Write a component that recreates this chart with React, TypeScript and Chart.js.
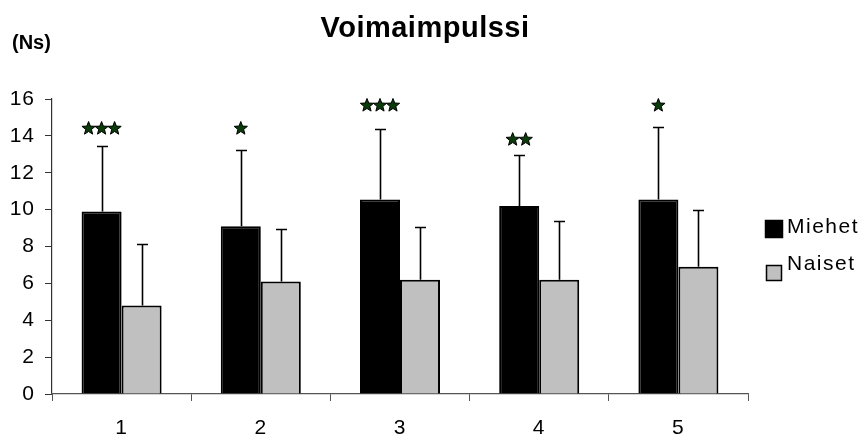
import React, { useEffect, useRef } from "react";
import { Chart, registerables } from "chart.js";

Chart.register(...registerables);

const categories = ["1", "2", "3", "4", "5"];
const miehet = [9.9, 9.1, 10.55, 10.2, 10.55];
const naiset = [4.8, 6.1, 6.2, 6.2, 6.9];
const miehetSD = [3.55, 4.15, 3.82, 2.74, 3.91];
const naisetSD = [3.35, 2.85, 2.87, 3.18, 3.1];
const starCounts = [3, 1, 3, 2, 1];
const starLevels = [14.4, 14.4, 15.65, 13.8, 15.65];
const seriesNames = ["Miehet", "Naiset"];
const seriesColors = ["#000000", "#c0c0c0"];
const titleText = "Voimaimpulssi";
const unitText = "(Ns)";

const FONT = "'Liberation Sans', Arial, sans-serif";

function drawStar(ctx: CanvasRenderingContext2D, cx: number, cy: number, R: number, r: number) {
  ctx.beginPath();
  for (let i = 0; i < 10; i++) {
    const rad = i % 2 === 0 ? R : r;
    const a = -Math.PI / 2 + (i * Math.PI) / 5;
    const x = cx + rad * Math.cos(a);
    const y = cy + rad * Math.sin(a);
    if (i === 0) ctx.moveTo(x, y);
    else ctx.lineTo(x, y);
  }
  ctx.closePath();
  ctx.fillStyle = "#0b3a0b";
  ctx.fill();
  ctx.lineWidth = 1;
  ctx.strokeStyle = "#000";
  ctx.stroke();
}

const spacingPlugin = {
  id: "spacing",
  beforeDraw(chart: any) {
    (chart.ctx as any).letterSpacing = "1px";
  },
};

const overlayPlugin = {
  id: "overlay",
  afterDatasetsDraw(chart: any) {
    const ctx: CanvasRenderingContext2D = chart.ctx;
    const yScale = chart.scales.y;
    const sds = [miehetSD, naisetSD];
    const vals = [miehet, naiset];
    ctx.save();
    // error bars
    for (let d = 0; d < 2; d++) {
      const meta = chart.getDatasetMeta(d);
      meta.data.forEach((bar: any, j: number) => {
        const x = Math.round(bar.x) + 0.5;
        const yTop = yScale.getPixelForValue(vals[d][j]);
        const yErr = Math.round(yScale.getPixelForValue(vals[d][j] + sds[d][j])) + 0.5;
        ctx.strokeStyle = "#000";
        ctx.lineWidth = 1.6;
        ctx.beginPath();
        ctx.moveTo(x, yTop);
        ctx.lineTo(x, yErr);
        ctx.moveTo(x - 5.5, yErr);
        ctx.lineTo(x + 5.5, yErr);
        ctx.stroke();
      });
    }
    // stars
    const meta0 = chart.getDatasetMeta(0);
    meta0.data.forEach((bar: any, j: number) => {
      const n = starCounts[j];
      const cy = yScale.getPixelForValue(starLevels[j]);
      const spacing = 13;
      const start = bar.x - ((n - 1) * spacing) / 2;
      for (let k = 0; k < n; k++) drawStar(ctx, start + k * spacing, cy, 7, 3);
    });
    // titles
    ctx.fillStyle = "#000";
    ctx.textBaseline = "alphabetic";
    ctx.textAlign = "center";
    (ctx as any).letterSpacing = "0.5px";
    ctx.font = `bold 29px ${FONT}`;
    ctx.fillText(titleText, 425, 37);
    ctx.textAlign = "left";
    (ctx as any).letterSpacing = "0px";
    ctx.font = `bold 20px ${FONT}`;
    ctx.fillText(unitText, 12, 49);
    // legend
    const legendRows = [
      { sq: [765, 220, 18, 18], ty: 233 },
      { sq: [766, 265, 16, 16], ty: 270 },
    ];
    ctx.font = `21px ${FONT}`;
    (ctx as any).letterSpacing = "1.5px";
    legendRows.forEach((row, i) => {
      const [sx, sy, sw, sh] = row.sq;
      ctx.fillStyle = seriesColors[i];
      ctx.fillRect(sx, sy, sw, sh);
      ctx.strokeStyle = "#000";
      ctx.lineWidth = 1.5;
      ctx.strokeRect(sx + 0.5, sy + 0.5, sw - 1, sh - 1);
      ctx.fillStyle = "#000";
      ctx.fillText(seriesNames[i], 787, row.ty);
    });
    ctx.restore();
  },
};

export default function App() {
  const ref = useRef<HTMLCanvasElement | null>(null);
  useEffect(() => {
    if (!ref.current) return;
    const chart = new Chart(ref.current, {
      type: "bar",
      data: {
        labels: categories,
        datasets: [
          {
            label: seriesNames[0],
            data: miehet,
            backgroundColor: seriesColors[0],
            borderColor: "#000",
            borderWidth: 2,
            categoryPercentage: 0.575,
            barPercentage: 1,
          },
          {
            label: seriesNames[1],
            data: naiset,
            backgroundColor: seriesColors[1],
            borderColor: "#000",
            borderWidth: 2,
            categoryPercentage: 0.575,
            barPercentage: 1,
          },
        ],
      },
      options: {
        animation: false,
        responsive: false,
        layout: { padding: { left: 0, top: 99, right: 114, bottom: 0 } },
        plugins: { legend: { display: false }, title: { display: false }, tooltip: { enabled: false } },
        scales: {
          y: {
            min: 0,
            max: 16,
            ticks: { stepSize: 2, color: "#000", font: { family: FONT, size: 21 }, padding: 10 },
            grid: { drawOnChartArea: false, tickLength: 7, color: "#333" },
            border: { color: "#333", width: 1.2 },
            afterFit: (s: any) => {
              s.width = 52;
            },
          },
          x: {
            ticks: { color: "#000", font: { family: FONT, size: 21 }, padding: 15 },
            grid: { drawOnChartArea: false, tickLength: 7, color: "#555", offset: true },
            border: { color: "#555", width: 1.2 },
            afterFit: (s: any) => {
              s.height = 42;
            },
          },
        },
      },
      plugins: [spacingPlugin, overlayPlugin],
    });
    return () => chart.destroy();
  }, []);
  return (
    <div style={{ position: "fixed", left: 0, top: 0, width: 862, height: 436, background: "#fff" }}>
      <canvas ref={ref} width={862} height={436} />
    </div>
  );
}
